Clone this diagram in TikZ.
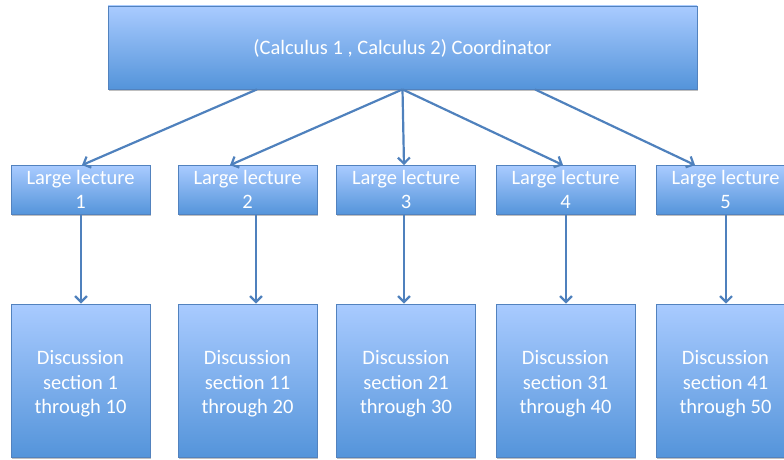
\documentclass[tikz,border=0pt]{standalone}
\usepackage{fontspec}
\setmainfont{Carlito}
\usetikzlibrary{arrows.meta,shadows,calc}
\definecolor{boxtop}{RGB}{169,203,255}
\definecolor{boxbot}{RGB}{84,148,218}
\definecolor{boxline}{RGB}{82,130,190}
\definecolor{arrowc}{RGB}{79,129,189}
\newcommand{\mylines}[2]{\raisebox{#1}[\height][\depth]{\begin{tabular}{@{}c@{}}#2\end{tabular}}}
\tikzset{
  boxbase/.style={draw=boxline, line width=0.8pt, top color=boxtop, bottom color=boxbot,
    text=white, font=\fontsize{20.5}{24.5}\selectfont, inner sep=0pt,
    drop shadow={shadow xshift=0.5pt, shadow yshift=-1.5pt, fill=black, opacity=0.25}},
  topbox/.style={boxbase, minimum width=589pt, minimum height=83pt},
  lecbox/.style={boxbase, minimum width=139pt, minimum height=48pt},
  discbox/.style={boxbase, minimum width=139pt, minimum height=153.5pt},
  conn/.style={draw=arrowc, line width=2.2pt, -{Straight Barb[length=6pt,width=12pt]}}
}
\begin{document}
\begin{tikzpicture}[x=1pt,y=1pt]
\useasboundingbox (0,0) rectangle (784,459);
\clip (0,0) rectangle (784,459);
\node[topbox] (top) at (402.5,411.5) {\mylines{-2.5pt}{(Calculus 1 , Calculus 2) Coordinator}};
\node[lecbox] (L1) at (80.5,269) {\mylines{-1.5pt}{Large lecture\\1}};
\node[lecbox] (L2) at (247.5,269) {\mylines{-1.5pt}{Large lecture\\2}};
\node[lecbox] (L3) at (406,269) {\mylines{-1.5pt}{Large lecture\\3}};
\node[lecbox] (L4) at (565.5,269) {\mylines{-1.5pt}{Large lecture\\4}};
\node[lecbox] (L5) at (725.5,269) {\mylines{-1.5pt}{Large lecture\\5}};
\node[discbox] (D1) at (80.5,78.25) {\mylines{-3.5pt}{Discussion\\section 1\\through 10}};
\node[discbox] (D2) at (247.5,78.25) {\mylines{-3.5pt}{Discussion\\section 11\\through 20}};
\node[discbox] (D3) at (406,78.25) {\mylines{-3.5pt}{Discussion\\section 21\\through 30}};
\node[discbox] (D4) at (565.5,78.25) {\mylines{-3.5pt}{Discussion\\section 31\\through 40}};
\node[discbox] (D5) at (725.5,78.25) {\mylines{-3.5pt}{Discussion\\section 41\\through 50}};
\draw[conn] ($(top.south)+(-145.5,0)$) -- ($(L1.north)+(1.5,0)$);
\draw[conn] ($(top.south)+(0,0)$) -- ($(L2.north)+(-17.5,0)$);
\draw[conn] ($(top.south)+(0,0)$) -- ($(L3.north)+(-2,0)$);
\draw[conn] ($(top.south)+(0,0)$) -- ($(L4.north)+(-2.5,0)$);
\draw[conn] ($(top.south)+(132.5,0)$) -- ($(L5.north)+(-30.5,0)$);
\draw[conn] ($(L1.south)+(0.5,0)$) -- ($(D1.north)+(0.5,0)$);
\draw[conn] ($(L2.south)+(8.5,0)$) -- ($(D2.north)+(8.5,0)$);
\draw[conn] ($(L3.south)+(-2,0)$) -- ($(D3.north)+(-2,0)$);
\draw[conn] ($(L4.south)+(0.5,0)$) -- ($(D4.north)+(0.5,0)$);
\draw[conn] ($(L5.south)+(0.5,0)$) -- ($(D5.north)+(0.5,0)$);
\end{tikzpicture}
\end{document}
